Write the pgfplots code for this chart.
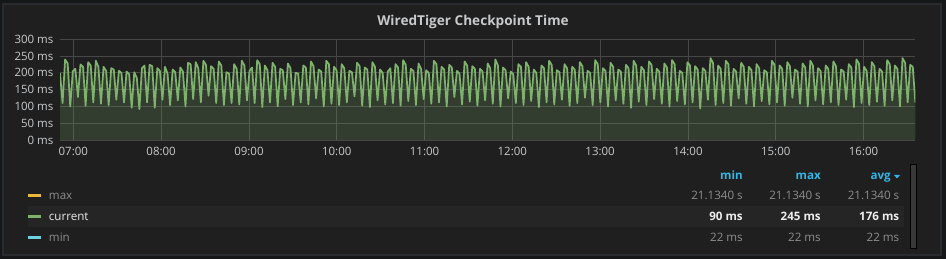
\documentclass[border=0pt]{standalone}
\usepackage{fontspec}
\setmainfont{Open Sans}
\usepackage{pgfplots}
\usepackage{pgfplotstable}
\pgfplotsset{compat=1.18}
\definecolor{pagebg}{HTML}{161719}
\definecolor{panelbg}{HTML}{1F1F20}
\definecolor{panelborder}{HTML}{2A2B2E}
\definecolor{gridc}{HTML}{474747}
\definecolor{tickc}{HTML}{C8C9CA}
\definecolor{grafgreen}{HTML}{7EB26D}
\definecolor{grafyellow}{HTML}{EAB839}
\definecolor{grafcyan}{HTML}{6ED0E0}
\definecolor{grafblue}{HTML}{33B5E5}
\definecolor{leggray}{HTML}{8E8E8E}
\definecolor{rowhl}{HTML}{252526}
\definecolor{valwhite}{HTML}{EDEDED}
% checkpoint time in ms, one sample every 1.75 min from 06:50.9
\pgfplotstableread[row sep=\\]{
y\\
200\\
110\\240\\228\\
100\\205\\212\\
128\\225\\218\\
102\\232\\222\\
112\\236\\218\\
108\\218\\206\\
104\\214\\210\\
120\\206\\200\\
112\\204\\196\\
96\\202\\185\\
92\\214\\222\\
112\\224\\220\\
96\\214\\206\\
120\\218\\198\\
104\\210\\202\\
118\\216\\204\\
100\\230\\226\\
122\\232\\214\\
112\\236\\224\\
132\\220\\212\\
110\\234\\222\\
104\\202\\198\\
110\\226\\212\\
106\\236\\222\\
118\\206\\216\\
110\\238\\226\\
98\\222\\208\\
112\\230\\218\\
100\\212\\208\\
122\\228\\214\\
104\\200\\198\\
112\\222\\216\\
106\\234\\220\\
124\\210\\204\\
100\\236\\226\\
108\\218\\208\\
104\\226\\214\\
112\\206\\202\\
130\\230\\220\\
102\\216\\210\\
98\\232\\218\\
118\\210\\200\\
106\\204\\214\\
110\\226\\216\\
102\\238\\224\\
116\\212\\206\\
104\\228\\212\\
122\\208\\200\\
108\\236\\226\\
112\\218\\210\\
100\\224\\216\\
128\\206\\198\\
106\\234\\222\\
114\\220\\212\\
102\\212\\204\\
118\\228\\214\\
108\\240\\222\\
100\\216\\208\\
124\\204\\196\\
110\\226\\218\\
104\\232\\218\\
116\\210\\200\\
98\\222\\214\\
112\\236\\224\\
106\\208\\202\\
120\\226\\214\\
102\\218\\210\\
110\\232\\220\\
126\\206\\200\\
104\\238\\226\\
112\\214\\206\\
100\\230\\218\\
118\\210\\204\\
108\\224\\214\\
96\\236\\222\\
114\\218\\208\\
104\\234\\224\\
122\\212\\204\\
108\\228\\216\\
100\\238\\226\\
116\\206\\200\\
106\\232\\222\\
112\\220\\210\\
94\\214\\206\\
120\\244\\230\\
104\\222\\212\\
110\\236\\226\\
102\\212\\204\\
124\\230\\218\\
108\\218\\208\\
100\\226\\214\\
116\\208\\202\\
106\\236\\224\\
112\\222\\212\\
102\\232\\220\\
126\\210\\204\\
108\\228\\216\\
100\\236\\222\\
118\\214\\206\\
106\\222\\212\\
112\\234\\220\\
104\\210\\204\\
120\\226\\216\\
98\\240\\228\\
110\\218\\206\\
104\\232\\220\\
114\\212\\204\\
102\\238\\226\\
118\\222\\212\\
100\\244\\230\\
112\\224\\218\\
112\\
}\cptable
\begin{document}
\begin{tikzpicture}
\begin{scope}[x=0.75pt,y=0.75pt]
\useasboundingbox (0,0) rectangle (946,259);
\fill[pagebg] (0,0) rectangle (946,259);
\filldraw[fill=panelbg,draw=panelborder,line width=1.2pt] (3,{259-4}) rectangle (941,{259-255});
\node[anchor=base,font=\fontsize{10.2}{12}\selectfont\bfseries,text=tickc] at (473,{259-25.2}) {WiredTiger Checkpoint Time};
\end{scope}
\begin{axis}[
  at={(45pt,89.25pt)}, anchor=south west,
  scale only axis, width=641.5pt, height=75.5pt,
  xmin=-9.1, xmax=575.4, ymin=0, ymax=300,
  xtick={0,60,120,180,240,300,360,420,480,540},
  xticklabels={07:00,08:00,09:00,10:00,11:00,12:00,13:00,14:00,15:00,16:00},
  ytick={0,50,100,150,200,250,300},
  yticklabels={0 ms,50 ms,100 ms,150 ms,200 ms,250 ms,300 ms},
  grid=major, grid style={draw=gridc,line width=0.6pt},
  axis line style={draw=none}, major tick length=0pt,
  tick label style={font=\fontsize{8.6}{10}\selectfont,text=tickc},
  yticklabel style={xshift=-1.5pt},
  xticklabel style={yshift=-1.5pt},
  /pgf/number format/assume math mode=true,
  axis on top=false, clip=true,
]
\addplot[draw=none,fill=grafgreen,fill opacity=0.2] table[x expr=\coordindex*1.75-9.1,y=y]{\cptable} \closedcycle;
\addplot[draw=grafgreen,line width=1.3pt,line join=round,mark=none] table[x expr=\coordindex*1.75-9.1,y=y]{\cptable};
\end{axis}
\begin{scope}[x=0.75pt,y=0.75pt]
\fill[rowhl] (28,{259-206}) rectangle (904,{259-227});
\fill[grafyellow] (28.3,{259-194.5}) rectangle (41,{259-197.5});
\fill[grafgreen] (28.3,{259-215.5}) rectangle (41,{259-218.5});
\fill[grafcyan] (28.3,{259-236.5}) rectangle (41,{259-239.5});
\begin{scope}[every node/.style={font=\fontsize{8.7}{10}\selectfont,inner sep=0pt}]
\node[anchor=base west,text=leggray] at (48.7,{259-199.5}) {max};
\node[anchor=base west,text=valwhite] at (48.7,{259-220.5}) {current};
\node[anchor=base west,text=leggray] at (48.7,{259-241.5}) {min};
\node[anchor=base east,text=grafblue,font=\fontsize{8.7}{10}\selectfont\bfseries] at (743,{259-179.5}) {min};
\node[anchor=base east,text=grafblue,font=\fontsize{8.7}{10}\selectfont\bfseries] at (821,{259-179.5}) {max};
\node[anchor=base east,text=grafblue,font=\fontsize{8.7}{10}\selectfont\bfseries] at (891,{259-179.5}) {avg};
\fill[grafblue] (894,{259-175}) -- (900,{259-175}) -- (897,{259-178.5}) -- cycle;
\node[anchor=base east,text=leggray] at (743,{259-199.5}) {21.1340 s};
\node[anchor=base east,text=leggray] at (821,{259-199.5}) {21.1340 s};
\node[anchor=base east,text=leggray] at (899.5,{259-199.5}) {21.1340 s};
\node[anchor=base east,text=valwhite,font=\fontsize{8.7}{10}\selectfont\bfseries] at (743,{259-220.5}) {90 ms};
\node[anchor=base east,text=valwhite,font=\fontsize{8.7}{10}\selectfont\bfseries] at (821,{259-220.5}) {245 ms};
\node[anchor=base east,text=valwhite,font=\fontsize{8.7}{10}\selectfont\bfseries] at (899.5,{259-220.5}) {176 ms};
\node[anchor=base east,text=leggray] at (743,{259-241.5}) {22 ms};
\node[anchor=base east,text=leggray] at (821,{259-241.5}) {22 ms};
\node[anchor=base east,text=leggray] at (899.5,{259-241.5}) {22 ms};
\end{scope}
\filldraw[fill=black!78,draw=black,line width=0.6pt] (910,{259-164}) rectangle (916,{259-248});
\end{scope}
\end{tikzpicture}
\end{document}
